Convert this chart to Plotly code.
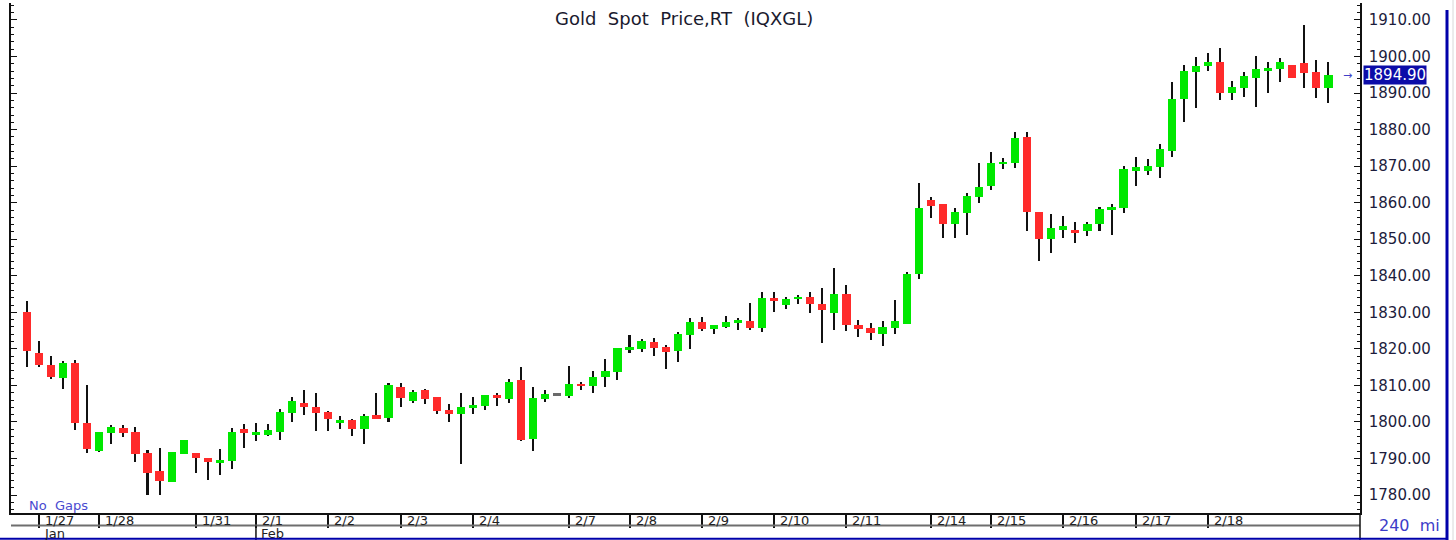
import plotly.graph_objects as go

# ---- data (240-minute candles, Gold Spot Price) ----
open_ = [1830.0, 1818.8, 1815.7, 1812.1, 1816.0, 1799.6, 1792.0, 1797.1, 1798.4, 1797.3,
         1791.4, 1786.7, 1783.7, 1791.2, 1791.4, 1790.0, 1788.7, 1789.4, 1798.0, 1796.4,
         1796.4, 1797.3, 1802.4, 1805.3, 1804.1, 1802.7, 1800.1, 1800.4, 1798.2, 1802.0,
         1801.2, 1809.7, 1805.8, 1808.7, 1806.7, 1803.3, 1802.2, 1803.9, 1804.4, 1807.5,
         1806.2, 1811.4, 1795.3, 1806.2, 1807.6, 1807.2, 1810.4, 1809.9, 1812.2, 1813.7,
         1820.0, 1819.9, 1822.0, 1820.4, 1819.5, 1823.8, 1827.4, 1825.4, 1826.1, 1827.3,
         1827.7, 1825.7, 1834.0, 1832.0, 1833.8, 1834.3, 1832.2, 1829.7, 1835.0, 1826.6,
         1825.7, 1824.1, 1825.8, 1826.8, 1840.5, 1860.7, 1859.6, 1854.1, 1857.1, 1861.5,
         1864.6, 1870.5, 1870.8, 1878.1, 1857.4, 1850.1, 1852.5, 1852.4, 1852.2, 1854.2,
         1858.2, 1858.5, 1868.8, 1868.8, 1869.9, 1874.2, 1888.3, 1895.9, 1897.4, 1898.5,
         1889.9, 1891.5, 1894.0, 1896.1, 1896.5, 1897.7, 1898.1, 1895.9, 1891.5]
high = [1833.1, 1822.1, 1818.0, 1816.7, 1817.0, 1810.0, 1797.3, 1799.3, 1799.3, 1798.7,
        1792.3, 1792.8, 1791.9, 1795.1, 1791.4, 1790.0, 1792.5, 1798.4, 1799.4, 1799.8,
        1799.4, 1803.5, 1806.8, 1808.7, 1808.0, 1803.1, 1801.7, 1800.7, 1802.3, 1807.8,
        1810.7, 1810.7, 1808.7, 1809.1, 1806.7, 1804.9, 1807.8, 1806.7, 1807.4, 1808.0,
        1811.7, 1815.1, 1809.7, 1808.7, 1807.6, 1815.3, 1811.0, 1814.0, 1817.1, 1820.1,
        1823.8, 1822.6, 1823.0, 1821.0, 1824.7, 1828.4, 1828.8, 1826.6, 1829.0, 1828.5,
        1832.6, 1835.6, 1835.6, 1834.3, 1834.7, 1835.6, 1836.7, 1842.0, 1837.5, 1827.9,
        1827.0, 1827.7, 1833.4, 1840.9, 1865.5, 1861.6, 1859.6, 1858.5, 1862.7, 1871.0,
        1874.0, 1872.1, 1879.4, 1879.4, 1857.4, 1856.8, 1856.3, 1854.6, 1854.6, 1858.7,
        1859.6, 1870.0, 1872.4, 1871.9, 1876.1, 1893.1, 1897.7, 1900.0, 1901.1, 1902.4,
        1893.4, 1895.9, 1900.1, 1898.6, 1899.5, 1897.7, 1908.6, 1899.1, 1898.6]
low = [1815.1, 1815.1, 1811.8, 1809.1, 1797.8, 1791.4, 1791.8, 1794.1, 1796.0, 1789.1,
       1780.0, 1780.0, 1783.5, 1791.2, 1786.1, 1784.1, 1785.4, 1787.0, 1793.0, 1794.7,
       1796.2, 1795.1, 1800.1, 1801.9, 1797.5, 1797.5, 1798.2, 1796.1, 1794.1, 1800.8,
       1800.1, 1804.2, 1805.1, 1804.9, 1802.2, 1800.1, 1788.5, 1802.2, 1803.4, 1804.4,
       1805.1, 1794.9, 1792.0, 1805.5, 1807.6, 1806.5, 1808.7, 1808.0, 1809.6, 1811.5,
       1818.8, 1819.2, 1818.1, 1814.4, 1816.5, 1819.9, 1825.0, 1824.1, 1825.8, 1825.2,
       1825.2, 1824.7, 1830.2, 1830.8, 1832.3, 1829.7, 1821.5, 1825.2, 1824.9, 1823.3,
       1822.4, 1820.8, 1824.1, 1826.8, 1839.0, 1855.7, 1850.4, 1850.4, 1851.1, 1859.8,
       1863.5, 1869.1, 1869.4, 1852.2, 1844.0, 1846.1, 1850.4, 1849.0, 1850.8, 1852.2,
       1851.1, 1857.1, 1864.7, 1867.5, 1866.7, 1872.6, 1882.2, 1885.8, 1896.1, 1888.1,
       1888.1, 1889.0, 1886.1, 1890.1, 1893.1, 1894.2, 1891.3, 1888.7, 1887.4]
close = [1819.5, 1815.5, 1812.4, 1816.0, 1799.8, 1792.5, 1797.3, 1798.7, 1797.1, 1791.2,
         1786.1, 1783.8, 1791.9, 1795.1, 1790.1, 1789.1, 1789.6, 1797.3, 1796.9, 1797.3,
         1797.8, 1802.7, 1805.7, 1804.2, 1802.5, 1800.8, 1800.3, 1798.2, 1801.7, 1800.8,
         1810.0, 1806.6, 1808.2, 1806.3, 1803.1, 1802.2, 1804.0, 1804.6, 1807.4, 1806.5,
         1811.0, 1795.1, 1806.5, 1807.6, 1807.6, 1810.4, 1810.0, 1812.4, 1814.0, 1820.1,
         1820.4, 1822.1, 1820.1, 1819.1, 1824.0, 1827.4, 1825.4, 1826.6, 1827.4, 1827.8,
         1825.7, 1834.0, 1833.2, 1833.6, 1834.3, 1832.2, 1830.5, 1835.0, 1826.4, 1825.5,
         1824.4, 1826.1, 1827.7, 1840.4, 1858.5, 1859.1, 1854.3, 1857.4, 1861.7, 1864.4,
         1871.0, 1871.1, 1877.7, 1857.5, 1850.1, 1853.0, 1853.6, 1851.8, 1854.3, 1858.4,
         1858.7, 1869.1, 1869.7, 1870.0, 1874.7, 1888.4, 1896.0, 1897.4, 1898.5, 1890.1,
         1891.7, 1894.7, 1896.5, 1896.8, 1898.5, 1894.2, 1895.4, 1891.5, 1894.9]

day_labels = ["1/27", "1/28", "1/31", "2/1", "2/2", "2/3", "2/4", "2/7", "2/8",
              "2/9", "2/10", "2/11", "2/14", "2/15", "2/16", "2/17", "2/18"]
day_start = [1, 6, 14, 19, 25, 31, 37, 45, 50, 56, 62, 68, 75, 80, 86, 92, 98]
month_labels = ["Jan", "Feb"]
month_start = [0, 19]
y_ticks = [1780, 1790, 1800, 1810, 1820, 1830, 1840, 1850, 1860, 1870, 1880, 1890, 1900, 1910]
last_price = close[-1]

# ---- styling ----
GREEN = "#00e800"
RED = "#ff2b2b"
DOJI = "#6a6a6a"
FONT = "DejaVu Sans"
X_MIN, X_MAX = -1.328, 110.62
Y_MIN, Y_MAX = 1775.08, 1914.65

n = len(close)
idx = list(range(n))
min_body = 0.5
body_base, body_h, body_col = [], [], []
for o, c in zip(open_, close):
    h = abs(c - o)
    mid = (o + c) / 2
    hh = max(h, min_body)
    body_base.append(mid - hh / 2)
    body_h.append(hh)
    body_col.append(GREEN if c > o else (RED if c < o else DOJI))

wick_h = [max(h - l, 0.0) for h, l in zip(high, low)]

fig = go.Figure()
fig.add_trace(go.Bar(x=idx, y=wick_h, base=low, width=0.17,
                     marker=dict(color="#111111", line=dict(width=0)),
                     showlegend=False, hoverinfo="skip"))
fig.add_trace(go.Bar(x=idx, y=body_h, base=body_base, width=0.68,
                     marker=dict(color=body_col, line=dict(width=0)),
                     showlegend=False,
                     customdata=list(zip(open_, high, low, close)),
                     hovertemplate="O %{customdata[0]}<br>H %{customdata[1]}<br>"
                                   "L %{customdata[2]}<br>C %{customdata[3]}<extra></extra>"))

def px_to_paper_x(px):
    return (px - 11) / 1349.0

def px_to_paper_y(py):
    return (513 - py) / 510.0

def idx_to_paper_x(i):
    return (i - X_MIN) / (X_MAX - X_MIN)

annotations = []
# title
annotations.append(dict(text="Gold\u00a0 Spot\u00a0 Price,RT\u00a0 (IQXGL)", xref="paper", yref="paper",
                        x=px_to_paper_x(684), y=px_to_paper_y(18), xanchor="center", yanchor="middle",
                        showarrow=False, font=dict(family=FONT, size=18, color="#1a1a2e")))
# No Gaps
annotations.append(dict(text="No\u00a0 Gaps", xref="paper", yref="paper",
                        x=px_to_paper_x(27), y=px_to_paper_y(505), xanchor="left", yanchor="middle",
                        showarrow=False, font=dict(family=FONT, size=13, color="#4a4ad0")))
# day labels
for lab, s in zip(day_labels, day_start):
    annotations.append(dict(text=lab, xref="x", yref="paper", x=s, xshift=4,
                            y=px_to_paper_y(520), xanchor="left", yanchor="middle",
                            showarrow=False, font=dict(family=FONT, size=13, color="#222222")))
# month labels
for lab, s in zip(month_labels, month_start):
    annotations.append(dict(text=lab, xref="paper", yref="paper",
                            x=max(idx_to_paper_x(s), 0.0) + (0.011 if s == 0 else 0.002),
                            y=px_to_paper_y(533), xanchor="left", yanchor="middle",
                            showarrow=False, font=dict(family=FONT, size=13, color="#222222")))
# last price box
annotations.append(dict(text=f"{last_price:.2f}", xref="paper", yref="y",
                        x=px_to_paper_x(1363), y=last_price, xanchor="left", yanchor="middle",
                        showarrow=False, bgcolor="#0c0ca8", borderpad=0,
                        font=dict(family=FONT, size=15, color="#ffffff")))
annotations.append(dict(text="→", xref="paper", yref="y",
                        x=px_to_paper_x(1347), y=last_price, xanchor="center", yanchor="middle",
                        showarrow=False, font=dict(family=FONT, size=11, color="#4040c8")))
# interval label
annotations.append(dict(text="240\u00a0 mi", xref="paper", yref="paper",
                        x=px_to_paper_x(1409), y=px_to_paper_y(525), xanchor="center", yanchor="middle",
                        showarrow=False, font=dict(family=FONT, size=16, color="#3c3cc8")))

shapes = []
# month separator row line
shapes.append(dict(type="line", xref="paper", yref="paper", x0=0, x1=1,
                   y0=px_to_paper_y(525.5), y1=px_to_paper_y(525.5),
                   line=dict(color="#6e6e6e", width=2)))
# month separators
for s in month_start[1:]:
    xp = idx_to_paper_x(s)
    shapes.append(dict(type="line", xref="paper", yref="paper", x0=xp, x1=xp,
                       y0=px_to_paper_y(525.5), y1=px_to_paper_y(540),
                       line=dict(color="#111111", width=1.5)))
# right axis extension to bottom
shapes.append(dict(type="line", xref="paper", yref="paper", x0=1, x1=1,
                   y0=0, y1=px_to_paper_y(540), line=dict(color="#111111", width=1.5)))
# blue frame lines
shapes.append(dict(type="line", xref="paper", yref="paper", x0=px_to_paper_x(1447), x1=px_to_paper_x(1447),
                   y0=px_to_paper_y(10), y1=px_to_paper_y(540), line=dict(color="#0000aa", width=3)))
shapes.append(dict(type="line", xref="paper", yref="paper", x0=px_to_paper_x(0), x1=px_to_paper_x(1448),
                   y0=px_to_paper_y(538.8), y1=px_to_paper_y(538.8), line=dict(color="#0000aa", width=2)))
shapes.append(dict(type="line", xref="paper", yref="paper", x0=px_to_paper_x(1453), x1=px_to_paper_x(1453),
                   y0=px_to_paper_y(0), y1=px_to_paper_y(540), line=dict(color="#d8d8d8", width=1)))

fig.update_layout(
    width=1456, height=540,
    margin=dict(l=11, r=96, t=3, b=27),
    paper_bgcolor="white", plot_bgcolor="white",
    barmode="overlay", bargap=0,
    showlegend=False,
    font=dict(family=FONT, color="#222222"),
    annotations=annotations, shapes=shapes,
    xaxis=dict(range=[X_MIN, X_MAX], showgrid=False, zeroline=False,
               showline=True, linecolor="#111111", linewidth=2,
               tickmode="array", tickvals=day_start, ticktext=[""] * len(day_start),
               ticks="outside", ticklen=13, tickwidth=1.5, tickcolor="#111111",
               showticklabels=False, fixedrange=True),
    yaxis=dict(range=[Y_MIN, Y_MAX], side="right", showgrid=False, zeroline=False,
               showline=True, linecolor="#111111", linewidth=1.5, mirror="ticks",
               tickmode="array", tickvals=y_ticks, ticktext=[f"{v:.2f}" for v in y_ticks],
               ticks="inside", ticklen=6, tickwidth=1.2, tickcolor="#111111",
               minor=dict(dtick=2, tick0=1780, ticks="inside", ticklen=3, tickwidth=1, tickcolor="#111111"),
               tickfont=dict(family=FONT, size=15, color="#1c1c3c"),
               ticklabelstandoff=4, fixedrange=True),
)

fig.write_html("out.html")
